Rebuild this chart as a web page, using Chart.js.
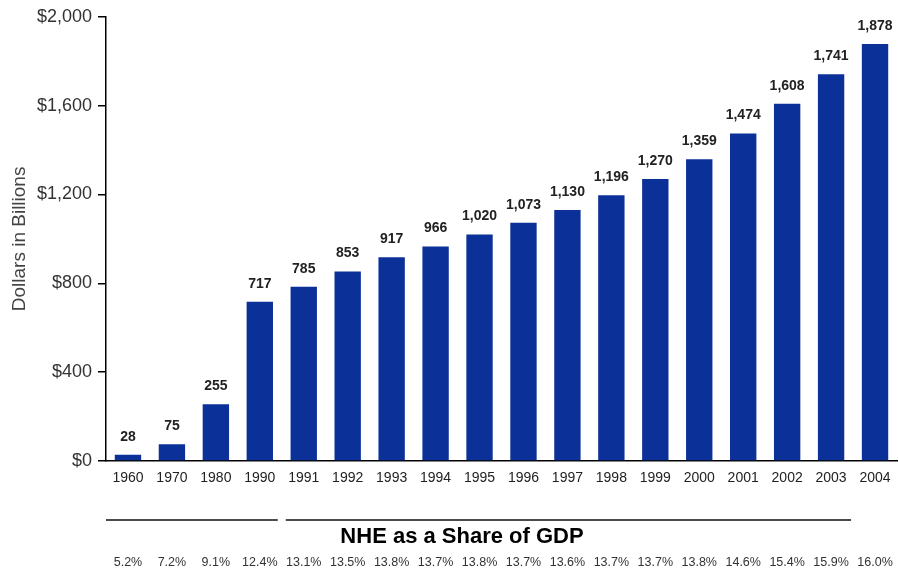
<!DOCTYPE html>
<html>
<head>
<meta charset="utf-8">
<script src="https://cdn.jsdelivr.net/npm/chart.js@4/dist/chart.umd.min.js"></script>
<style>
  html, body { margin: 0; padding: 0; background: #fff; }
  #wrap { width: 899px; height: 571px; }
</style>
</head>
<body>
<div id="wrap"><canvas id="chart"></canvas></div>
<script>
const years = ['1960', '1970', '1980', '1990', '1991', '1992', '1993', '1994', '1995',
  '1996', '1997', '1998', '1999', '2000', '2001', '2002', '2003', '2004'];
const spending = [28, 75, 255, 717, 785, 853, 917, 966, 1020, 1073, 1130, 1196,
  1270, 1359, 1474, 1608, 1741, 1878];
const gdpShare = ['5.2%', '7.2%', '9.1%', '12.4%', '13.1%', '13.5%', '13.8%', '13.7%', '13.8%',
  '13.7%', '13.6%', '13.7%', '13.7%', '13.8%', '14.6%', '15.4%', '15.9%', '16.0%'];
const shareTitle = 'NHE as a Share of GDP';

const FONT = 'Arial, "Liberation Sans", sans-serif';

// value labels above the bars + the GDP share block under the axis
const extras = {
  id: 'extras',
  afterDraw(chart) {
    const ctx = chart.ctx;
    const x = chart.scales.x;
    const meta = chart.getDatasetMeta(0);

    ctx.save();
    ctx.fillStyle = '#222';
    ctx.font = 'bold 14px ' + FONT;
    ctx.textAlign = 'center';
    ctx.textBaseline = 'middle';
    meta.data.forEach((bar, i) => {
      ctx.fillText(spending[i].toLocaleString('en-US'), bar.x, bar.y - 18);
    });

    const half = (x.getPixelForValue(1) - x.getPixelForValue(0)) / 2;
    const lineY = 520;
    ctx.strokeStyle = '#111';
    ctx.lineWidth = 1.5;
    ctx.beginPath();
    ctx.moveTo(x.getPixelForValue(0) - half, lineY);
    ctx.lineTo(x.getPixelForValue(3) + half - 4, lineY);
    ctx.moveTo(x.getPixelForValue(4) - half + 4, lineY);
    ctx.lineTo(x.getPixelForValue(16) + half - 2, lineY);
    ctx.stroke();

    ctx.fillStyle = '#000';
    ctx.font = 'bold 22px ' + FONT;
    ctx.fillText(shareTitle, 462, 537);

    ctx.fillStyle = '#333';
    ctx.font = '12.5px ' + FONT;
    gdpShare.forEach((s, i) => {
      ctx.fillText(s, x.getPixelForValue(i), 563);
    });
    ctx.restore();
  }
};

new Chart(document.getElementById('chart'), {
  type: 'bar',
  data: {
    labels: years,
    datasets: [{
      data: spending,
      backgroundColor: '#0B3198',
      categoryPercentage: 1,
      barPercentage: 0.6
    }]
  },
  options: {
    responsive: true,
    maintainAspectRatio: false,
    animation: false,
    layout: { padding: { top: 16, right: 2, left: 0, bottom: 0 } },
    plugins: { legend: { display: false }, tooltip: { enabled: false } },
    scales: {
      x: {
        grid: { display: false },
        border: { display: true, color: '#000', width: 1.5 },
        ticks: { color: '#222', font: { family: FONT, size: 14 }, padding: 1, maxRotation: 0, autoSkip: false },
        afterFit(scale) { scale.height = 110; }
      },
      y: {
        min: 0,
        max: 2000,
        grid: { drawOnChartArea: false, drawTicks: true, tickLength: 8, color: '#000', lineWidth: 1.5 },
        border: { display: true, color: '#000', width: 1.5 },
        ticks: {
          stepSize: 400,
          color: '#333',
          padding: 6,
          font: { family: FONT, size: 18 },
          callback: v => '$' + v.toLocaleString('en-US')
        },
        title: {
          display: true,
          text: 'Dollars in Billions',
          color: '#444',
          font: { family: FONT, size: 19 },
          padding: { top: 8, bottom: 0 }
        },
        afterFit(scale) { scale.width = 106; }
      }
    }
  },
  plugins: [extras]
});
</script>
</body>
</html>
